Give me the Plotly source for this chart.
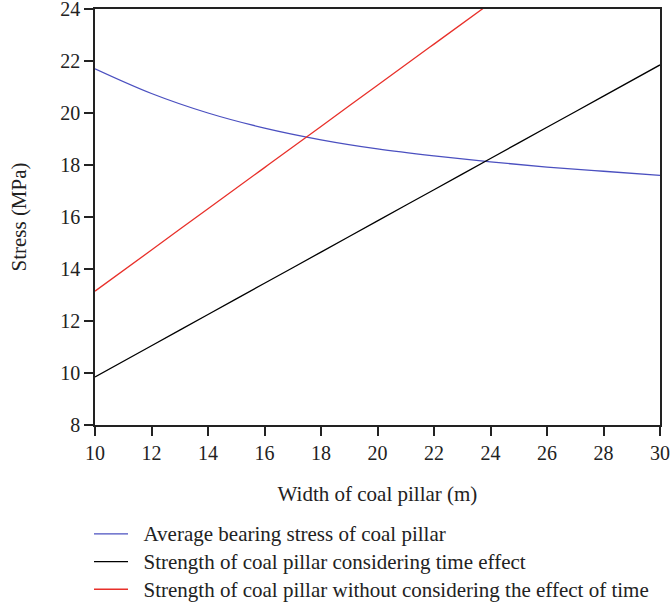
import plotly.graph_objects as go

width_m = [10, 12, 14, 16, 18, 20, 22, 24, 26, 28, 30]
avg_stress = [21.7, 20.75, 20.0, 19.42, 18.97, 18.62, 18.35, 18.12, 17.92, 17.76, 17.6]
strength_time = [9.85, 11.05, 12.25, 13.45, 14.65, 15.85, 17.05, 18.25, 19.45, 20.65, 21.85]
strength_no_time = [13.15, 14.73, 16.32, 17.9, 19.48, 21.07, 22.65, 24.23, 25.82, 27.4, 28.98]

names = [
    "Average bearing stress of coal pillar",
    "Strength of coal pillar considering time effect",
    "Strength of coal pillar without considering the effect of time",
]
colors = ["#4b50c0", "#000000", "#e8302a"]

font = "Liberation Serif, Times New Roman, serif"

fig = go.Figure()
for ys, nm, c in zip([avg_stress, strength_time, strength_no_time], names, colors):
    label = '<span style="font-size:21px">\u00a0\u00a0' + nm + '</span>'
    fig.add_trace(go.Scatter(x=width_m, y=ys, mode="lines", name=label,
                             line=dict(color=c, width=1.3, shape="spline")))

fig.update_layout(
    width=671, height=606,
    margin=dict(l=95, r=11, t=9, b=181, autoexpand=False),
    plot_bgcolor="white", paper_bgcolor="white",
    font=dict(family=font, size=20, color="#222"),
    showlegend=True,
    legend=dict(x=-0.0106, y=-0.2163, xanchor="left", yanchor="top",
                font=dict(family=font, size=19, color="#222"),
                bgcolor="rgba(0,0,0,0)", tracegroupgap=0, itemwidth=34),
    xaxis=dict(range=[10, 30], tickvals=list(range(10, 31, 2)),
               showline=True, linecolor="#222", linewidth=1.5, mirror=True,
               ticks="outside", ticklen=9, tickwidth=1.5, tickcolor="#222",
               showgrid=False, zeroline=False, automargin=False,
               ticklabeloverflow="allow",
               tickfont=dict(family=font, size=20),
               title=dict(text="Width of coal pillar (m)", standoff=24,
                          font=dict(family=font, size=21))),
    yaxis=dict(range=[8, 24], tickvals=list(range(8, 25, 2)),
               showline=True, linecolor="#222", linewidth=1.5, mirror=True,
               ticks="outside", ticklen=9, tickwidth=1.5, tickcolor="#222",
               showgrid=False, zeroline=False, automargin=False,
               ticklabeloverflow="allow",
               tickfont=dict(family=font, size=20),
               title=dict(text="Stress (MPa)", standoff=28,
                          font=dict(family=font, size=21))),
)

fig.write_html("out.html")
